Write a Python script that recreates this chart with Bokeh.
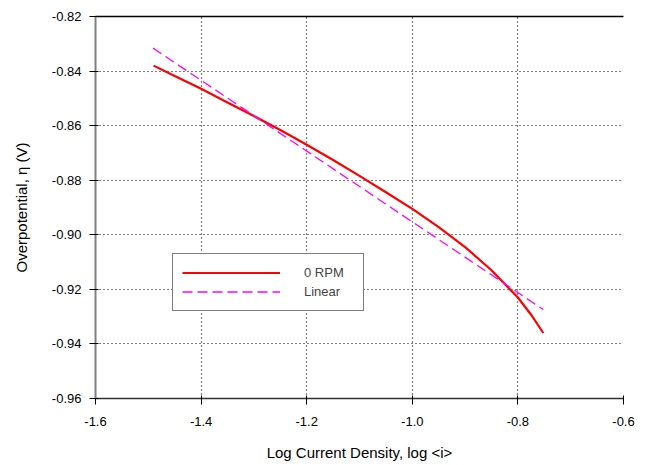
from bokeh.plotting import figure
from bokeh.models import (FixedTicker, NumeralTickFormatter, Legend, LegendItem, Range1d, LinearAxis)
from bokeh.embed import file_html
from bokeh.resources import INLINE

# ---- data ----
rpm0_x = [-1.49, -1.45, -1.40, -1.35, -1.30, -1.25, -1.20, -1.15, -1.10, -1.05,
          -1.00, -0.95, -0.90, -0.85, -0.80, -0.775, -0.752]
rpm0_y = [-0.838, -0.8418, -0.8465, -0.8515, -0.8565, -0.8616, -0.867, -0.8726, -0.8784, -0.8844,
          -0.8905, -0.8972, -0.9045, -0.913, -0.923, -0.9293, -0.936]
linear_x = [-1.491, -0.752]
linear_y = [-0.8316, -0.9274]

x_ticks = [-1.6, -1.4, -1.2, -1.0, -0.8, -0.6]
y_ticks = [-0.96, -0.94, -0.92, -0.90, -0.88, -0.86, -0.84, -0.82]

FONT = "Liberation Sans"

p = figure(width=650, height=465, output_backend="svg", toolbar_location=None,
           x_range=Range1d(-1.6, -0.6), y_range=Range1d(-0.96, -0.82),
           min_border_left=95, min_border_right=27, min_border_top=16, min_border_bottom=67)

p.background_fill_color = "white"
p.border_fill_color = "white"
p.outline_line_color = None

r1 = p.line(rpm0_x, rpm0_y, line_color="#ff0000", line_width=2.2)
r2 = p.line(linear_x, linear_y, line_color="#ff00ff", line_width=1.3, line_dash="10 5")

bottom = p.below[0]

# top border as a bare axis (no ticks, no labels)
top = LinearAxis(ticker=FixedTicker(ticks=[]), major_tick_line_color=None,
                 minor_tick_line_color=None, axis_line_color="black",
                 axis_line_width=1.5)
p.add_layout(top, "above")

# axes
bottom.ticker = FixedTicker(ticks=x_ticks)
p.yaxis.ticker = FixedTicker(ticks=y_ticks)
bottom.formatter = NumeralTickFormatter(format="0.0")
p.yaxis.formatter = NumeralTickFormatter(format="0.00")
bottom.axis_label = "Log Current Density, log <i>"
p.yaxis.axis_label = "Overpotential, η (V)"
for ax in (bottom, p.yaxis[0]):
    ax.axis_label_text_font = FONT
    ax.axis_label_text_font_style = "normal"
    ax.axis_label_text_font_size = "15px"
    ax.axis_label_text_color = "black"
    ax.major_label_text_font = FONT
    ax.major_label_text_font_size = "13px"
    ax.major_label_text_color = "black"
    ax.major_tick_out = 6
    ax.major_tick_in = 3
    ax.major_tick_line_color = "black"
    ax.minor_tick_line_color = None
bottom.axis_line_color = "#303030"
bottom.axis_line_width = 1.5
bottom.major_label_standoff = 12
bottom.axis_label_standoff = 15
p.yaxis.axis_line_color = "#808080"
p.yaxis.axis_line_width = 2
p.yaxis.major_label_standoff = 8
p.yaxis.axis_label_standoff = 19

# grid
for g in (p.xgrid[0], p.ygrid[0]):
    g.grid_line_color = "black"
    g.grid_line_dash = "1 3"
    g.grid_line_width = 1.2
    g.grid_line_alpha = 1.0

legend = Legend(items=[LegendItem(label="0 RPM", renderers=[r1]),
                       LegendItem(label="Linear", renderers=[r2])],
                location=(77, 87))
legend.glyph_width = 98
legend.glyph_height = 19
legend.label_height = 19
legend.label_width = 50
legend.label_standoff = 24
legend.spacing = 0
legend.padding = 9
legend.margin = 0
legend.label_text_font = FONT
legend.label_text_font_size = "13px"
legend.border_line_color = "black"
legend.border_line_width = 1.5
legend.background_fill_color = "white"
legend.background_fill_alpha = 1.0
p.add_layout(legend)

open("out.html", "w").write(file_html(p, INLINE))
